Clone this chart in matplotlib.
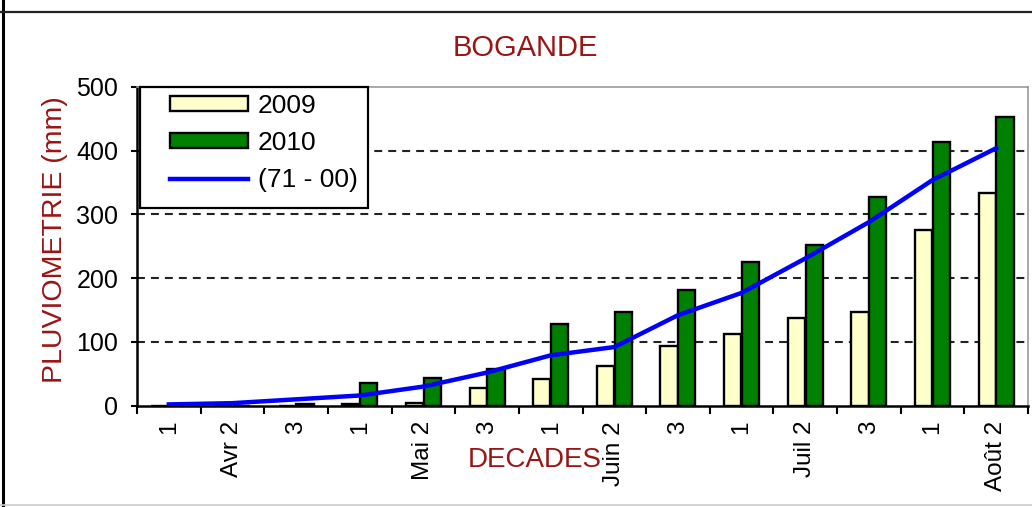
import numpy as np
import matplotlib
matplotlib.use("Agg")
import matplotlib.pyplot as plt
from matplotlib.lines import Line2D
from matplotlib.patches import Rectangle

plt.rcParams['font.family'] = ['Liberation Sans', 'DejaVu Sans']

# Décades d'avril à août
decades = ['1', 'Avr 2', '3', '1', 'Mai 2', '3', '1', 'Juin 2', '3',
           '1', 'Juil 2', '3', '1', 'Août 2']

# Pluviométrie cumulée (mm)
pluie_2009 = [0, 0, 0, 2, 5, 28, 42, 62, 94, 113, 138, 147, 275, 333]
pluie_2010 = [0, 0, 3, 35, 43, 57, 128, 147, 182, 225, 252, 328, 414, 453]
normale_71_00 = [2, 4, 10, 16, 30, 52, 79, 92, 142, 177, 231, 288, 354, 404]

yticks = [0, 100, 200, 300, 400, 500]

rouge = '#9a1515'
W, H = 1032, 507

fig = plt.figure(figsize=(W/100, H/100), dpi=100)
ax = fig.add_axes([137/W, 1 - 405.7/H, (1028 - 137)/W, (405.7 - 87)/H])

x = np.arange(len(decades))
w = 0.27
ax.hlines(yticks[1:-1], -0.5, len(decades) - 0.5, colors='#222222',
          linestyles=(0, (3.8, 2.9)), linewidth=1.5, zorder=1)
b09 = ax.bar(x - 0.14, pluie_2009, w, color='#ffffcc', edgecolor='black',
             linewidth=1.7, label='2009', zorder=2)
b10 = ax.bar(x + 0.14, pluie_2010, w, color='#008000', edgecolor='black',
             linewidth=1.7, label='2010', zorder=2)
ln, = ax.plot(x, normale_71_00, color='#0000ff', linewidth=3.2,
              label='(71 - 00)', zorder=3)

ax.set_xlim(-0.5, len(decades) - 0.5)
ax.set_ylim(0, 500)
ax.set_yticks(yticks)
ax.tick_params(axis='y', direction='out', length=4.5, width=1.5, pad=9,
               labelsize=18)

# étiquettes au centre, graduations entre les décades
ax.set_xticks(x)
ax.set_xticklabels(decades, rotation=90, fontsize=17.5, va='top')
ax.tick_params(axis='x', which='major', length=0, pad=11)
ax.set_xticks(np.arange(len(decades) + 1) - 0.5, minor=True)
ax.tick_params(axis='x', which='minor', direction='out', length=6, width=1.5)

for s in ['left', 'bottom']:
    ax.spines[s].set_linewidth(1.8)
    ax.spines[s].set_color('black')
for s in ['top', 'right']:
    ax.spines[s].set_linewidth(1.2)
    ax.spines[s].set_color('#999999')

# cadre de la légende
cadre = Rectangle((140/W, 1 - 208/H), 228/W, 121/H, transform=fig.transFigure,
                  facecolor='white', edgecolor='black', linewidth=1.6, zorder=4)
fig.add_artist(cadre)
leg = fig.legend([b09, b10, ln], ['2009', '2010', '(71 - 00)'],
                 loc='upper left', bbox_to_anchor=(170/W, 1 - 94/H),
                 borderaxespad=0, borderpad=0, frameon=False, fontsize=19,
                 handlelength=2.95, handleheight=0.5, labelspacing=0.5,
                 handletextpad=0.38)
leg.set_zorder(5)

fig.text(525/W, 1 - 48/H, 'BOGANDE', color=rouge, fontsize=21,
         ha='center', va='center')
fig.text(55/W, 1 - 240/H, 'PLUVIOMETRIE (mm)', color=rouge,
         fontsize=20.5, rotation=90, ha='center', va='center')
fig.text(535/W, 1 - 460/H, 'DECADES', color=rouge, fontsize=20,
         ha='center', va='center')

# cadre extérieur
fig.add_artist(Line2D([3/W, 3/W], [0, 1], color='black', linewidth=2.2))
fig.add_artist(Line2D([0, 1], [1 - 11.5/H, 1 - 11.5/H], color='#222222',
                      linewidth=1.6))
fig.add_artist(Line2D([0, 1], [1 - 505/H, 1 - 505/H], color='#cccccc',
                      linewidth=1.2))

fig.savefig('out.png', dpi=100)
